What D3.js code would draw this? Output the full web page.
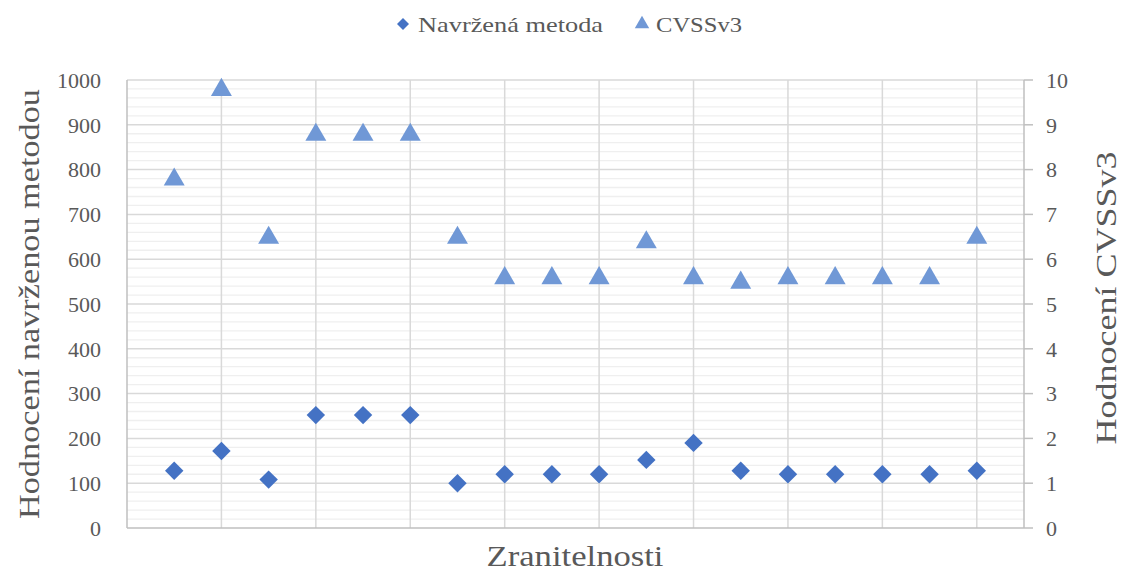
<!DOCTYPE html>
<html><head><meta charset="utf-8">
<script src="https://cdn.jsdelivr.net/npm/d3@7"></script>
<style>body{margin:0;background:#fff}text{font-family:"Liberation Serif","DejaVu Serif",serif;fill:#595959}</style>
</head><body><svg id="c" width="1125" height="572"></svg>
<script>
const positions = [1,2,3,4,5,6,7,8,9,10,11,12,13,14,15,16,17,18];
const navrzena = [128,172,108,252,252,252,100,120,120,120,152,190,128,120,120,120,120,128];
const cvss = [7.8,9.8,6.5,8.8,8.8,8.8,6.5,5.6,5.6,5.6,6.4,5.6,5.5,5.6,5.6,5.6,5.6,6.5];
const leftTicks = [0,100,200,300,400,500,600,700,800,900,1000];
const rightTicks = [0,1,2,3,4,5,6,7,8,9,10];
const seriesNames = ["Navržená metoda","CVSSv3"];

const svg = d3.select("#c");
const L=127,R=1024,T=80,B=528;
const x = d3.scaleLinear().domain([0,19]).range([L,R]);
const yL = d3.scaleLinear().domain([0,1000]).range([B,T]);
const yR = d3.scaleLinear().domain([0,10]).range([B,T]);

const minor = d3.range(0,1001,20).filter(v=>v%100!==0);
svg.append("g").selectAll("line").data(minor).join("line")
  .attr("x1",L).attr("x2",R).attr("y1",d=>yL(d)).attr("y2",d=>yL(d))
  .attr("stroke","#efefef").attr("stroke-width",1.3);
svg.append("g").selectAll("line").data(leftTicks.slice(1)).join("line")
  .attr("x1",L).attr("x2",R).attr("y1",d=>yL(d)).attr("y2",d=>yL(d))
  .attr("stroke","#d9d9d9").attr("stroke-width",1.5);
svg.append("g").selectAll("line").data(d3.range(2,19,2)).join("line")
  .attr("x1",d=>x(d)).attr("x2",d=>x(d)).attr("y1",T).attr("y2",B)
  .attr("stroke","#d9d9d9").attr("stroke-width",1.5);
svg.append("line").attr("x1",L).attr("x2",L).attr("y1",T).attr("y2",B).attr("stroke","#bfbfbf").attr("stroke-width",1.5);
svg.append("line").attr("x1",R).attr("x2",R).attr("y1",T).attr("y2",B).attr("stroke","#bfbfbf").attr("stroke-width",1.5);
svg.append("line").attr("x1",L).attr("x2",R).attr("y1",B).attr("y2",B).attr("stroke","#bfbfbf").attr("stroke-width",1.5);
svg.append("g").selectAll("line").data(rightTicks).join("line")
  .attr("x1",R).attr("x2",R+9).attr("y1",d=>yR(d)).attr("y2",d=>yR(d))
  .attr("stroke","#bfbfbf").attr("stroke-width",1.5);

svg.append("g").selectAll("text").data(leftTicks).join("text")
  .attr("x",101).attr("y",d=>yL(d)).attr("dy","0.35em").attr("text-anchor","end")
  .style("font-size","22px").text(d=>d);
svg.append("g").selectAll("text").data(rightTicks).join("text")
  .attr("x",1046).attr("y",d=>yR(d)).attr("dy","0.35em").attr("text-anchor","start")
  .style("font-size","22px").text(d=>d);

svg.append("text").attr("transform","translate(39,304) rotate(-90)").attr("text-anchor","middle")
  .attr("textLength",430).attr("lengthAdjust","spacingAndGlyphs")
  .style("font-size","30px").text("Hodnocení navrženou metodou");
svg.append("text").attr("transform","translate(1116,298) rotate(-90)").attr("text-anchor","middle")
  .attr("textLength",293).attr("lengthAdjust","spacingAndGlyphs")
  .style("font-size","30px").text("Hodnocení CVSSv3");
svg.append("text").attr("x",575).attr("y",566).attr("text-anchor","middle")
  .attr("textLength",177).attr("lengthAdjust","spacingAndGlyphs")
  .style("font-size","29px").text("Zranitelnosti");

const cDia="#4472C4", cTri="#7098D6";
const dia = d3.symbol().type(d3.symbolSquare).size(170);
const tri = d3.symbol().type(d3.symbolTriangle).size(190);

svg.append("g").selectAll("path").data(positions).join("path")
  .attr("d",dia).attr("transform",(d,i)=>`translate(${x(d)},${yL(navrzena[i])}) rotate(45)`).attr("fill",cDia);
svg.append("g").selectAll("path").data(positions).join("path")
  .attr("d",tri).attr("transform",(d,i)=>`translate(${x(d)},${yR(cvss[i])+1})`).attr("fill",cTri);

const lg = svg.append("g");
lg.append("path").attr("d",d3.symbol().type(d3.symbolSquare).size(72)).attr("transform","translate(403,24) rotate(45)").attr("fill",cDia);
lg.append("text").attr("x",418).attr("y",24).attr("dy","0.35em").attr("textLength",185).attr("lengthAdjust","spacingAndGlyphs")
  .style("font-size","22px").text(seriesNames[0]);
lg.append("path").attr("d",d3.symbol().type(d3.symbolTriangle).size(90)).attr("transform","translate(642,24)").attr("fill",cTri);
lg.append("text").attr("x",656).attr("y",24).attr("dy","0.35em").attr("textLength",86).attr("lengthAdjust","spacingAndGlyphs")
  .style("font-size","22px").text(seriesNames[1]);
</script></body></html>
